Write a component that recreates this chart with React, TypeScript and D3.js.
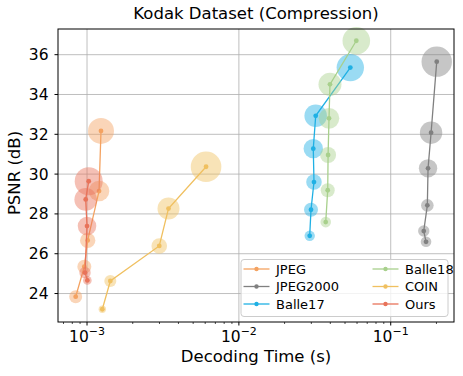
import React from "react";
import * as d3 from "d3";

const seriesNames = ["JPEG", "JPEG2000", "Balle17", "Balle18", "COIN", "Ours"];
const seriesColors = ["#f4a261", "#808080", "#1fb0e4", "#a8d08c", "#f0c060", "#e8735a"];

const jpegTime = [0.000842, 0.00096, 0.00101, 0.0012, 0.001236];
const jpegPsnr = [23.84, 25.35, 26.67, 29.15, 32.17];
const jpegSize = [6.5, 7, 7.7, 10.3, 13];

const j2kTime = [0.1708, 0.165, 0.1742, 0.1761, 0.1844, 0.2009];
const j2kPsnr = [26.6, 27.14, 28.43, 30.29, 32.08, 35.65];
const j2kSize = [5.3, 5.7, 6.3, 9.2, 11.2, 15.2];

const b17Time = [0.02927, 0.02985, 0.03123, 0.0309, 0.03206, 0.05418];
const b17Psnr = [26.9, 28.21, 29.6, 31.28, 32.93, 35.35];
const b17Size = [5.2, 7, 7.8, 9.7, 11.3, 13.7];

const b18Time = [0.03732, 0.03846, 0.03868, 0.03922, 0.0398, 0.05934];
const b18Psnr = [27.59, 29.19, 30.96, 32.8, 34.51, 36.7];
const b18Size = [5.3, 7, 8, 10.3, 11.5, 13.8];

const coinTime = [0.001261, 0.001424, 0.00299, 0.00344, 0.00608];
const coinPsnr = [23.21, 24.63, 26.39, 28.27, 30.37];
const coinSize = [3.7, 6, 7.8, 11, 15.3];

const oursTime = [0.001005, 0.00097, 0.001, 0.00098, 0.001026];
const oursPsnr = [24.66, 25.05, 27.39, 28.73, 29.64];
const oursSize = [4.3, 5.7, 9.3, 11.3, 14];

const yTicks = [24, 26, 28, 30, 32, 34, 36];
const xMajorExp = [-3, -2, -1];

const W = 463, H = 376;
const M = { left: 58, right: 454, top: 29, bottom: 322 };
const FONT = "DejaVu Sans";

export default function App() {
  const x = d3.scaleLog().domain([6.44e-4, 0.261]).range([M.left, M.right]);
  const y = d3.scaleLinear().domain([22.57, 37.29]).range([M.bottom, M.top]);

  const series = [
    { t: jpegTime, p: jpegPsnr, s: jpegSize },
    { t: j2kTime, p: j2kPsnr, s: j2kSize },
    { t: b17Time, p: b17Psnr, s: b17Size },
    { t: b18Time, p: b18Psnr, s: b18Size },
    { t: coinTime, p: coinPsnr, s: coinSize },
    { t: oursTime, p: oursPsnr, s: oursSize },
  ];

  const minor: number[] = [];
  for (let e = -4; e <= 0; e++) {
    for (let m = 2; m <= 9; m++) {
      const v = m * Math.pow(10, e);
      if (v >= x.domain()[0] && v <= x.domain()[1]) minor.push(v);
    }
  }

  const line = d3.line<[number, number]>().x((d) => x(d[0])).y((d) => y(d[1]));

  const legX = 241, legY = 259.5, legW = 207, legH = 57;
  const rowH = 17.5;

  return (
    <svg width={W} height={H} style={{ position: "absolute", left: 0, top: 0 }} fontFamily={FONT}>
      <rect x={0} y={0} width={W} height={H} fill="#fff" />
      <text x={(M.left + M.right) / 2} y={19} textAnchor="middle" fontSize={16.5}>
        Kodak Dataset (Compression)
      </text>
      {/* grid */}
      {yTicks.map((v) => (
        <line key={"gy" + v} x1={M.left} x2={M.right} y1={y(v)} y2={y(v)} stroke="#b0b0b0" strokeWidth={1} opacity={0.8} />
      ))}
      {xMajorExp.map((e) => (
        <line key={"gx" + e} x1={x(Math.pow(10, e))} x2={x(Math.pow(10, e))} y1={M.top} y2={M.bottom} stroke="#b0b0b0" strokeWidth={1} opacity={0.8} />
      ))}
      {/* series */}
      {series.map((sr, i) => {
        const pts = sr.t.map((t, k) => [t, sr.p[k]] as [number, number]);
        return (
          <g key={"s" + i}>
            {pts.map((d, k) => (
              <circle key={"c" + k} cx={x(d[0])} cy={y(d[1])} r={sr.s[k]} fill={seriesColors[i]} opacity={0.45} />
            ))}
            <path d={line(pts) || ""} fill="none" stroke={seriesColors[i]} strokeWidth={1.3} />
            {pts.map((d, k) => (
              <circle key={"m" + k} cx={x(d[0])} cy={y(d[1])} r={2.4} fill={seriesColors[i]} />
            ))}
          </g>
        );
      })}
      {/* axes frame */}
      <rect x={M.left} y={M.top} width={M.right - M.left} height={M.bottom - M.top} fill="none" stroke="#000" strokeWidth={1} />
      {/* y ticks */}
      {yTicks.map((v) => (
        <g key={"yt" + v}>
          <line x1={M.left - 3.5} x2={M.left} y1={y(v)} y2={y(v)} stroke="#000" />
          <text x={M.left - 9.5} y={y(v)} dy="0.36em" textAnchor="end" fontSize={15.5}>
            {v}
          </text>
        </g>
      ))}
      {/* x ticks */}
      {minor.map((v, i) => (
        <line key={"mn" + i} x1={x(v)} x2={x(v)} y1={M.bottom} y2={M.bottom + 2} stroke="#000" strokeWidth={0.7} />
      ))}
      {xMajorExp.map((e) => {
        const px = x(Math.pow(10, e));
        return (
          <g key={"xt" + e}>
            <line x1={px} x2={px} y1={M.bottom} y2={M.bottom + 3.5} stroke="#000" />
            <text x={px} y={341.5} textAnchor="middle" fontSize={15.5}>
              10
              <tspan dy={-6.5} fontSize={11}>{"\u2212" + Math.abs(e)}</tspan>
            </text>
          </g>
        );
      })}
      <text x={256} y={362} textAnchor="middle" fontSize={16.5}>
        Decoding Time (s)
      </text>
      <text transform={`translate(19.5,${173}) rotate(-90)`} textAnchor="middle" fontSize={16.5}>
        PSNR (dB)
      </text>
      {/* legend */}
      <rect x={legX} y={legY} width={legW} height={legH} rx={3} fill="#fff" fillOpacity={0.8} stroke="#cccccc" />
      {seriesNames.map((nm, i) => {
        const col = Math.floor(i / 3);
        const row = i % 3;
        const lx = col === 0 ? 243.5 : 372.5;
        const ly = 269 + row * rowH;
        return (
          <g key={"lg" + i}>
            <line x1={lx} x2={lx + 26} y1={ly} y2={ly} stroke={seriesColors[i]} strokeWidth={1.3} />
            <circle cx={lx + 13} cy={ly} r={2.2} fill={seriesColors[i]} />
            <text x={lx + 32.5} y={ly} dy="0.36em" fontSize={13}>
              {nm}
            </text>
          </g>
        );
      })}
    </svg>
  );
}
